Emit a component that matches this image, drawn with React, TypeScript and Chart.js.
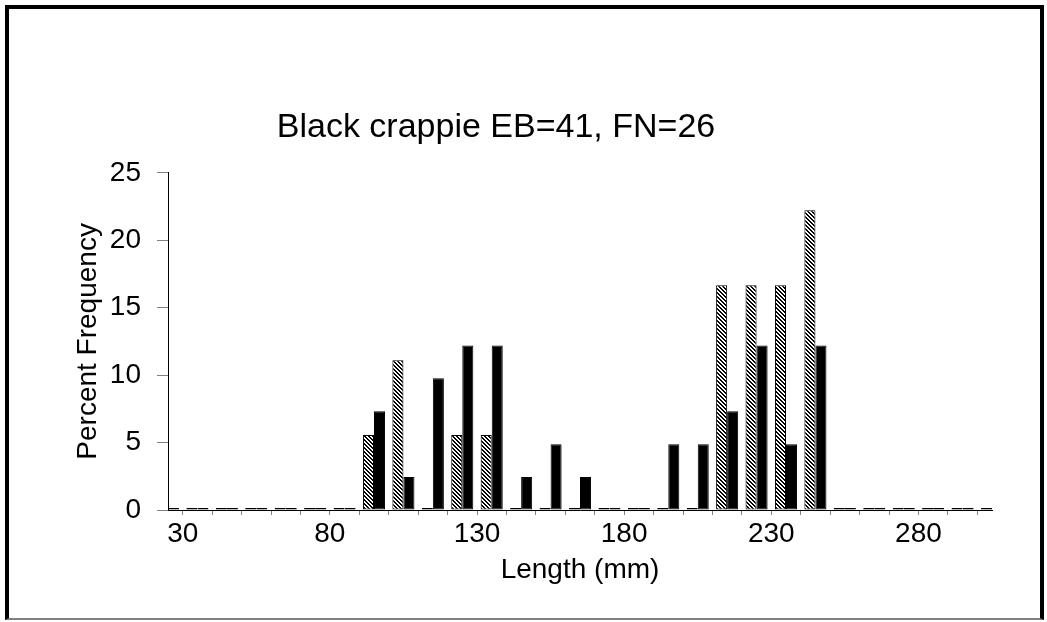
import React, { useEffect, useRef } from "react";
import { Chart, registerables } from "chart.js";

Chart.register(...registerables);

// Category positions (length classes, mm); labels shown every 50 mm
const lengthClasses = [
  30, 40, 50, 60, 70, 80, 90, 100, 110, 120, 130, 140, 150, 160, 170,
  180, 190, 200, 210, 220, 230, 240, 250, 260, 270, 280, 290, 300, 310,
];
const shownLabels = [30, 80, 130, 180, 230, 280];

// Percent frequency, hatched series (FN)
const fnPercent = [
  0, 0, 0, 0, 0, 0, 0, 5.56, 11.11, 0, 5.56, 5.56, 0, 0, 0,
  0, 0, 0, 0, 16.67, 16.67, 16.67, 22.22, 0, 0, 0, 0, 0, 0,
];
// Percent frequency, black series (EB)
const ebPercent = [
  0, 0, 0, 0, 0, 0, 0, 7.32, 2.44, 9.76, 12.2, 12.2, 2.44, 4.88, 2.44,
  0, 0, 4.88, 4.88, 7.32, 12.2, 4.88, 12.2, 0, 0, 0, 0, 0, 0,
];

const yTicks = [0, 5, 10, 15, 20, 25];

const FONT = "'Liberation Sans', Arial, sans-serif";

function makeHatch(): CanvasPattern | string {
  const s = 4;
  const c = document.createElement("canvas");
  c.width = s;
  c.height = s;
  const g = c.getContext("2d");
  if (!g) return "#888";
  g.fillStyle = "#fff";
  g.fillRect(0, 0, s, s);
  g.fillStyle = "#000";
  for (let y = 0; y < s; y++) {
    for (let x = 0; x < s; x++) {
      const d = (((x - y) % s) + s) % s;
      if (d === 0 || d === 1) g.fillRect(x, y, 1, 1);
    }
  }
  const p = g.createPattern(c, "repeat");
  return p || "#888";
}

export default function App() {
  const ref = useRef<HTMLCanvasElement>(null);

  useEffect(() => {
    if (!ref.current) return;
    const hatch = makeHatch();
    const chart = new Chart(ref.current, {
      type: "bar",
      data: {
        labels: lengthClasses.map(String),
        datasets: [
          {
            label: "FN",
            data: fnPercent,
            backgroundColor: (ctx: any) => (ctx.raw === 0 ? "#000" : (hatch as any)),
            borderColor: "#000",
            borderWidth: 1,
            borderSkipped: false,
            minBarLength: 2,
            categoryPercentage: 0.75,
            barPercentage: 1.0,
          },
          {
            label: "EB",
            data: ebPercent,
            backgroundColor: "#000",
            borderColor: "#000",
            borderWidth: 1,
            borderSkipped: false,
            minBarLength: 2,
            categoryPercentage: 0.75,
            barPercentage: 1.0,
          },
        ],
      },
      options: {
        responsive: false,
        animation: false,
        layout: { padding: { left: 0, right: 55, top: 0, bottom: 30 } },
        plugins: {
          legend: { display: false },
          tooltip: { enabled: false },
          title: {
            display: true,
            text: "Black crappie EB=41, FN=26",
            color: "#000",
            font: { family: FONT, size: 34, weight: "normal" },
            padding: { top: 107, bottom: 25 },
          },
        },
        scales: {
          x: {
            type: "category",
            offset: false,
            grid: {
              display: true,
              drawOnChartArea: false,
              drawTicks: true,
              tickLength: 5,
              color: "#808080",
            },
            border: { display: true, color: "#000", width: 1 },
            ticks: {
              autoSkip: false,
              maxRotation: 0,
              minRotation: 0,
              padding: 2,
              labelOffset: 14.7,
              color: "#000",
              font: { family: FONT, size: 28 },
              callback: (_v: any, i: number) =>
                shownLabels.includes(lengthClasses[i]) ? String(lengthClasses[i]) : "",
            },
            title: {
              display: true,
              text: "Length (mm)",
              color: "#000",
              font: { family: FONT, size: 28 },
              padding: { top: 0, bottom: 5 },
            },
            afterFit: (scale: any) => {
              scale.height = 82;
            },
          },
          y: {
            min: 0,
            max: 25,
            grid: {
              display: true,
              drawOnChartArea: false,
              drawTicks: true,
              tickLength: 11,
              color: "#808080",
            },
            border: { display: true, color: "#000", width: 1 },
            ticks: {
              stepSize: 2.5,
              padding: 16,
              color: "#000",
              font: { family: FONT, size: 28 },
              callback: (v: any) => (yTicks.includes(Number(v)) ? String(v) : ""),
            },
            title: {
              display: true,
              text: "Percent Frequency",
              color: "#000",
              font: { family: FONT, size: 28 },
              padding: { top: 71, bottom: 0 },
            },
            afterFit: (scale: any) => {
              scale.width = 168;
            },
          },
        },
      },
    });
    return () => chart.destroy();
  }, []);

  return (
    <div style={{ position: "fixed", left: 0, top: 0, width: 1047, height: 622, background: "#fff" }}>
      <canvas ref={ref} width={1047} height={622} style={{ position: "absolute", left: 0, top: 0 }} />
      <div
        style={{
          position: "absolute",
          left: 5,
          top: 5,
          width: 1031,
          height: 609,
          borderLeft: "4px solid #000",
          borderTop: "4px solid #000",
          borderRight: "4px solid #000",
          borderBottom: "2px solid #808080",
          pointerEvents: "none",
        }}
      />
    </div>
  );
}
